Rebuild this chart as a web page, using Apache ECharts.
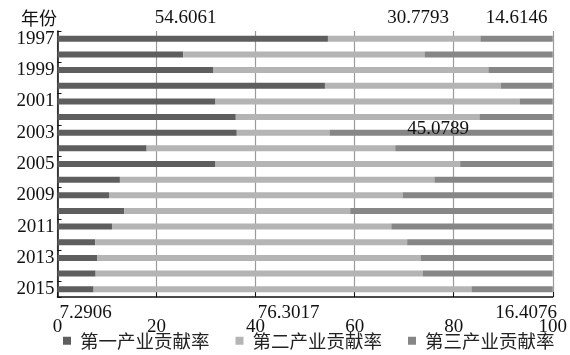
<!DOCTYPE html>
<html><head><meta charset="utf-8">
<script src="https://cdn.jsdelivr.net/npm/echarts@6/dist/echarts.min.js"></script>
<style>html,body{margin:0;padding:0;background:#fff}#c{width:570px;height:355px}</style>
</head><body><div id="c"></div>
<script>
const years = ['1997','1998','1999','2000','2001','2002','2003','2004','2005','2008','2009','2010','2011','2012','2013','2014','2015'];
const seriesNames = ['第一产业贡献率','第二产业贡献率','第三产业贡献率'];
const primary = [54.6061, 25.4, 31.5, 54.0, 31.9, 36.0, 36.2, 18.0, 31.9, 12.6, 10.4, 13.5, 11.0, 7.6, 8.0, 7.7, 7.2906];
const secondary = [30.7793, 48.7, 55.5, 35.5, 61.4, 49.2, 18.72, 50.2, 49.4, 63.5, 59.3, 45.6, 56.4, 63.0, 65.3, 66.1, 76.3017];
const tertiary = [14.6146, 25.9, 13.0, 10.5, 6.7, 14.8, 45.0789, 31.8, 18.7, 23.9, 30.3, 40.9, 32.6, 29.4, 26.7, 26.2, 16.4076];
const xTicks = [0, 20, 40, 60, 80, 100];

const serif = '"Liberation Serif","Noto Sans CJK SC",serif';
const cjk = '"Noto Sans CJK SC",serif';
const colors = ['#5e5e5e', '#b4b4b4', '#868686'];
const topOffsets = [[-7, 0], [14, 0], [0, 0]];
const botOffsets = [[10, 0], [6, 0], [14, 0]];

function labelFor(s, i) {
  const base = {show: true, formatter: '{c}', color: '#111', fontFamily: serif, fontSize: 19};
  if (i === 0) return Object.assign(base, {position: 'top', distance: 8, offset: topOffsets[s]});
  if (i === years.length - 1) return Object.assign(base, {position: 'bottom', distance: 11, offset: botOffsets[s]});
  if (i === 6 && s === 2) return Object.assign(base, {position: 'inside', offset: [-3, -4]});
  return {show: false};
}
const all = [primary, secondary, tertiary];
const series = all.map((arr, s) => ({
  name: seriesNames[s], type: 'bar', stack: 'total', barWidth: 6,
  itemStyle: {color: colors[s]},
  data: arr.map((v, i) => ({value: v, label: labelFor(s, i)})),
  z: 2
}));

const chart = echarts.init(document.getElementById('c'), null, {renderer: 'canvas'});
chart.setOption({
  animation: false,
  backgroundColor: '#fff',
  title: {text: '年份', left: 16, top: 4, textStyle: {fontFamily: cjk, fontSize: 18, fontWeight: 'normal', color: '#111'}},
  grid: {left: 57.5, right: 15, top: 31, bottom: 58, containLabel: false},
  legend: {
    bottom: 0, left: 58, icon: 'rect', itemWidth: 8, itemHeight: 8, itemGap: 26,
    textStyle: {fontFamily: cjk, fontSize: 18.5, color: '#222', padding: [0, 0, 0, 4]},
    data: seriesNames
  },
  xAxis: {
    type: 'value', min: xTicks[0], max: xTicks[xTicks.length - 1], interval: 20,
    axisLine: {show: true, lineStyle: {color: '#111', width: 1.5}},
    axisTick: {show: true, inside: true, length: 5, lineStyle: {color: '#111'}},
    axisLabel: {margin: 21, color: '#111', fontFamily: serif, fontSize: 19},
    splitLine: {show: true, lineStyle: {color: '#9a9a9a', width: 1.2}}
  },
  yAxis: {
    type: 'category', data: years, inverse: true,
    axisLine: {show: true, lineStyle: {color: '#111', width: 1.5}},
    axisTick: {show: true, inside: true, length: 4, lineStyle: {color: '#111'}},
    axisLabel: {interval: 1, margin: 3, color: '#111', fontFamily: serif, fontSize: 19},
    splitLine: {show: false}
  },
  series: series
});
</script></body></html>
